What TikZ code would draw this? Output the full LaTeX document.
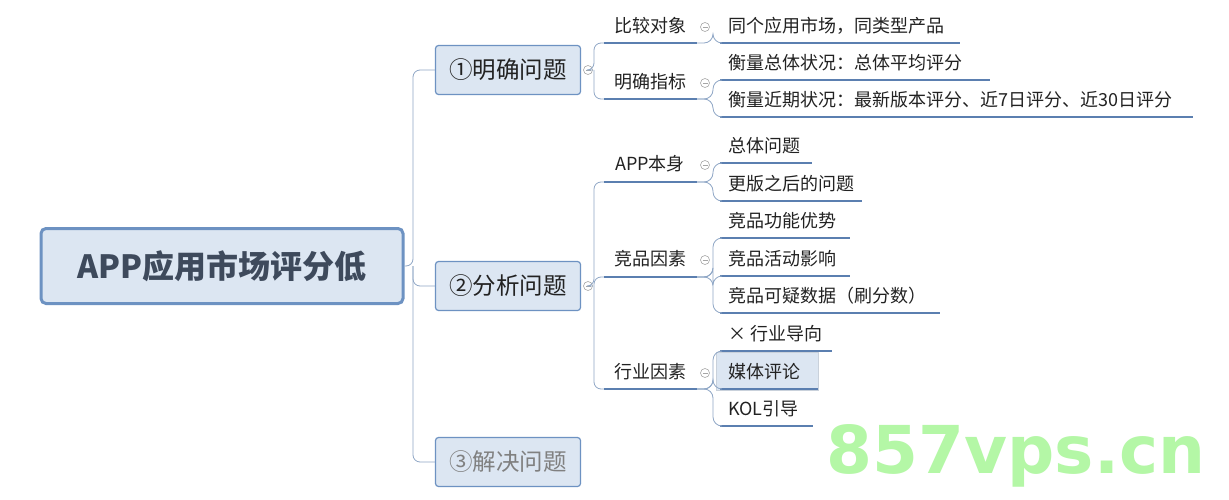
\documentclass[tikz,border=0pt]{standalone}
\usepackage{fontspec}
\setmainfont{Noto Sans CJK SC}
\newfontfamily\wmfont{DejaVu Sans}
\begin{document}
\begin{tikzpicture}[x=1pt,y=-1pt,
  line/.style={draw=lineblue,line width=0.8pt,rounded corners=7pt},
  under/.style={draw=ulblue,line width=2.2pt},
  lone/.style={draw=boxblue,fill=boxfill,line width=1.2pt,rounded corners=3pt,minimum width=145pt,minimum height=49pt,font=\fontsize{23.5}{23.5}\selectfont,text=txt},
  ltwo/.style={font=\fontsize{18}{18}\selectfont,text=txt,inner sep=0pt},
  leaf/.style={font=\fontsize{18}{18}\selectfont,text=txt,inner sep=0pt,anchor=west},
  coll/.style={circle,draw=gray!70,line width=0.6pt,minimum size=9pt,inner sep=0pt,
     path picture={\draw[gray!70,line width=0.6pt] ([xshift=-2.5pt]path picture bounding box.center)--([xshift=2.5pt]path picture bounding box.center);}}]
\definecolor{lineblue}{HTML}{8FA7C6}
\definecolor{ulblue}{HTML}{5B7FB0}
\definecolor{boxblue}{HTML}{6D92C2}
\definecolor{boxfill}{HTML}{DCE6F2}
\definecolor{txt}{HTML}{222222}
\definecolor{roottxt}{HTML}{3E4A5C}
\definecolor{wmgreen}{HTML}{B4F7A6}
\useasboundingbox (0,0) rectangle (1229,500);
\fill[white] (0,0) rectangle (1229,500);
% root
\node[draw=boxblue,fill=boxfill,line width=3pt,rounded corners=5pt,minimum width=362pt,minimum height=75pt,font=\bfseries\fontsize{32}{32}\selectfont,text=roottxt] (root) at (222,266) {APP应用市场评分低};
% level 1
\node[lone] (a) at (508,70) {①明确问题};
\node[lone] (b) at (508,286) {②分析问题};
\node[lone,text=gray] (c) at (508,462) {③解决问题};
\draw[line] (root.east) -- (413,266) -- (413,70) -- (a.west);
\draw[line] (413,266) -- (413,286) -- (b.west);
\draw[line] (413,266) -- (413,462) -- (c.west);
\node[coll] (ca) at (588,70) {};
\node[coll] (cb) at (588,286) {};
% level 2 for a
\node[ltwo] (a1) at (650,26) {比较对象};
\node[ltwo] (a2) at (650,82) {明确指标};
\coordinate (a1s) at (604,43); \coordinate (a1e) at (697,43);
\coordinate (a2s) at (604,99); \coordinate (a2e) at (697,99);
\draw[line] (ca.east) -- (594,70) -- (594,43) -- (a1s);
\draw[line] (594,70) -- (594,99) -- (a2s);
\draw[under] (a1s) -- (a1e); \draw[under] (a2s) -- (a2e);
\node[coll] (ca1) at (705,27) {};
\node[coll] (ca2) at (705,83) {};
% level 2 for b
\node[ltwo] (b1) at (650,164) {APP本身};
\node[ltwo] (b2) at (650,259) {竞品因素};
\node[ltwo] (b3) at (650,372) {行业因素};
\coordinate (b1s) at (604,182); \coordinate (b1e) at (697,182);
\coordinate (b2s) at (604,277); \coordinate (b2e) at (697,277);
\coordinate (b3s) at (604,389); \coordinate (b3e) at (697,389);
\draw[line] (cb.east) -- (594,286) -- (594,182) -- (b1s);
\draw[line] (594,286) -- (594,277) -- (b2s);
\draw[line] (594,286) -- (594,389) -- (b3s);
\foreach \s/\e in {b1s/b1e,b2s/b2e,b3s/b3e} \draw[under] (\s) -- (\e);
\node[coll] (cb1) at (705,165) {};
\node[coll] (cb2) at (705,260) {};
\node[coll] (cb3) at (705,373) {};
% highlight
\node[fill=boxfill,draw=boxfill!80!gray,minimum width=102pt,minimum height=38pt,inner sep=0pt] (hl) at (767,371) {};
% leaves
\foreach \n/\y/\len/\t/\pp in {
 l1/26/240/{同个应用市场，同类型产品}/a1e,
 l2/63/270/{衡量总体状况：总体平均评分}/a2e,
 l3/100/473/{衡量近期状况：最新版本评分、近7日评分、近30日评分}/a2e,
 l4/146/92/{总体问题}/b1e,
 l5/184/142/{更版之后的问题}/b1e,
 l6/221/130/{竞品功能优势}/b2e,
 l7/259/130/{竞品活动影响}/b2e,
 l8/296/220/{竞品可疑数据（刷分数）}/b2e,
 l9/334/112/{× 行业导向}/b3e,
 l10/372/98/{媒体评论}/b3e,
 l11/409/93/{KOL引导}/b3e}{
  \node[leaf] (\n) at (728,\y) {\t};
  \coordinate (\n s) at (720,\y+17);
  \draw[under] (\n s) -- ++(\len,0);
  \draw[line,rounded corners=9pt] (\pp) -- ([xshift=16pt]\pp) |- (\n s);
}
% watermark
\node[font=\wmfont\bfseries\fontsize{66}{66}\selectfont,text=wmgreen,inner sep=0pt] (wm) at (1016,456) {857vps.cn};
\end{tikzpicture}
\end{document}
